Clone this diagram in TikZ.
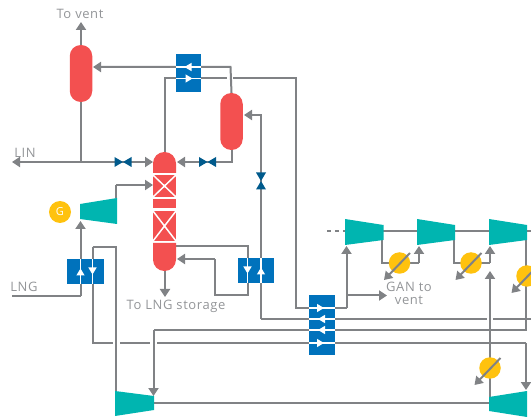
\documentclass[tikz,border=0pt]{standalone}
\usepackage{fontspec}
\setmainfont[LetterSpace=4.5]{Open Sans}
\usetikzlibrary{arrows.meta,calc}
\definecolor{pipe}{HTML}{808285}
\definecolor{lbl}{HTML}{939598}
\definecolor{vred}{HTML}{F35050}
\definecolor{hxblue}{HTML}{0072BC}
\definecolor{teal2}{HTML}{00B5B0}
\definecolor{gold}{HTML}{FFC20E}
\definecolor{valveblue}{HTML}{005A8C}
\tikzset{
 x=1pt,y=-1pt,
 pipeline/.style={draw=pipe,line width=2pt},
 flow/.style={pipeline,-{Triangle[length=8pt,width=10pt]}},
 halo/.style={draw=white,line width=2.8pt},
 vessel/.style={fill=vred,minimum width=22.5pt,minimum height=57pt,inner sep=0pt,rounded corners=11pt},
 hxbox/.style={fill=hxblue,inner sep=0pt},
 hot/.style={draw=white,line width=1.2pt,-{Triangle[length=7pt,width=8pt]}},
 hotplain/.style={draw=white,line width=1.2pt},
 cooler/.style={circle,fill=gold,minimum size=21.5pt,inner sep=0pt},
 machine/.style={fill=teal2},
 vlv/.style={fill=valveblue},
 txt/.style={text=lbl,font=\fontsize{13}{12.5}\selectfont,inner sep=0pt,align=center},
 pack/.style={fill=vred},
 packx/.style={draw=white,line width=1.5pt},
}
\newcommand{\hvalve}[1]{\path[vlv] ($(#1)+(-8.5,-5)$) -- ($(#1)+(8.5,5)$) -- ($(#1)+(8.5,-5)$) -- ($(#1)+(-8.5,5)$) -- cycle;}
\newcommand{\vvalve}[1]{\path[vlv] ($(#1)+(-5,-8.5)$) -- ($(#1)+(5,8.5)$) -- ($(#1)+(-5,8.5)$) -- ($(#1)+(5,-8.5)$) -- cycle;}
\begin{document}
\begin{tikzpicture}
\clip (0,0) rectangle (531,417);
% coordinates
\coordinate (ventTip) at (81,22);
\coordinate (linTip) at (12,162);
\coordinate (linJ) at (81,162);
\coordinate (colTipL) at (153,162);
\coordinate (colTipR) at (177,162);
\coordinate (v1in) at (93,67);
\coordinate (c67) at (230.5,67);
\coordinate (colT) at (165,156);
\coordinate (a1) at (165,78.5);
\coordinate (gapL) at (227,78.5);
\coordinate (gapR) at (233,78.5);
\coordinate (a2) at (296,78.5);
\coordinate (a3) at (296,308);
\coordinate (a4) at (346.5,308);
\coordinate (c1in) at (346.5,246);
\coordinate (ganJ) at (346.5,295.5);
\coordinate (ganTip) at (387,295.5);
\coordinate (v2inTip) at (244,115);
\coordinate (r1) at (261,115);
\coordinate (r2) at (261,319);
\coordinate (r3) at (487,319);
\coordinate (r4) at (493,319);
\coordinate (r5) at (531,319);
\coordinate (s1) at (526,330);
\coordinate (s2) at (153.5,330);
\coordinate (s3) at (153.5,396);
\coordinate (s0) at (526,240);
\coordinate (t1) at (92.5,343);
\coordinate (t2) at (526,343);
\coordinate (t3) at (526,390);
\coordinate (t4) at (92.5,247);
\coordinate (t5) at (116,247);
\coordinate (t6) at (116,391);
\coordinate (x1a) at (112.5,343);
\coordinate (x1b) at (119.5,343);
\coordinate (x2a) at (150,343);
\coordinate (x2b) at (157,343);
\coordinate (g1) at (116,198);
\coordinate (g2) at (116,185);
\coordinate (g3) at (153,185);
\coordinate (lng0) at (12,296);
\coordinate (lng1) at (80.5,296);
\coordinate (lng2) at (80.5,221);
\coordinate (b1) at (176,246);
\coordinate (b2) at (247.5,246);
\coordinate (b3) at (247.5,295);
\coordinate (b4) at (214.5,295);
\coordinate (b5) at (214.5,259);
\coordinate (b6) at (177,259);
\coordinate (colB) at (165,271);
\coordinate (colBTip) at (165,297);
\coordinate (d0) at (327,231);
\coordinate (d1) at (345,231);
\coordinate (d2) at (531,231);
\coordinate (e1) at (382,240);
\coordinate (e2) at (382,263);
\coordinate (e3) at (419,263);
\coordinate (e4) at (419,246);
\coordinate (f1) at (453.5,240);
\coordinate (f2) at (453.5,263);
\coordinate (f3) at (490,263);
\coordinate (f4) at (490,246);
\coordinate (h1) at (154,403);
\coordinate (h2) at (490,403);
\coordinate (h3) at (490,397);
\coordinate (h4) at (490,271);
% vessels
\node[vessel] (v1) at (81,73.5) {};
\node[vessel] (v2) at (231.5,121.5) {};
% connectors
\draw[flow] (v1.north) -- (ventTip);
\draw[flow] (linJ) -- (linTip);
\draw[pipeline] (v1.south) -- (linJ);
\draw[flow] (linJ) -- (colTipL);
\draw[flow] (v2.south) |- (colTipR);
\draw[flow] (v2.north) -- (c67) -- (v1in);
\draw[pipeline] (colT) -- (a1) -- (gapL);
\draw[pipeline] (gapR) -- (a2) -- (a3) -- (a4);
\draw[flow] (a4) -- (c1in);
\draw[flow] (ganJ) -- (ganTip);
\draw[flow] (r2) -- (r1) -- (v2inTip);
\draw[pipeline] (r2) -- (r3);
\draw[pipeline] (r4) -- (r5);
\draw[pipeline] (t4) -- (t1) -- (t2);
\draw[flow] (t2) -- (t3);
\draw[halo] (x1a) -- (x1b);
\draw[halo] (x2a) -- (x2b);
\draw[pipeline] (s0) -- (s1) -- (s2);
\draw[flow] (s2) -- (s3);
\draw[pipeline] (t4) -- (t5) -- (t6);
\draw[pipeline] (g1) -- (g2);
\draw[flow] (g2) -- (g3);
\draw[pipeline] (lng0) -- (lng1);
\draw[flow] (lng1) -- (lng2);
\draw[pipeline] (b1) -- (b2) -- (b3) -- (b4) -- (b5);
\draw[flow] (b5) -- (b6);
\draw[flow] (colB) -- (colBTip);
\draw[pipeline,dash pattern=on 4pt off 4pt] (d0) -- (d1);
\draw[pipeline] (d1) -- (d2);
\draw[pipeline] (e1) -- (e2) -- (e3);
\draw[flow] (e3) -- (e4);
\draw[pipeline] (f1) -- (f2) -- (f3);
\draw[flow] (f3) -- (f4);
\draw[pipeline] (h1) -- (h2);
\draw[flow] (h3) -- (h4);
% column
\path[fill=vred,rounded corners=11.4pt] (153,173) -- (153,152) -- (176,152) -- (176,173);
\path[pack] (153,175) rectangle (176,197);
\draw[packx] (153,175) -- (176,197) (176,175) -- (153,197);
\path[pack] (153,199) rectangle (176,208);
\path[pack] (153,211) rectangle (176,241);
\draw[packx] (153,211) -- (176,241) (176,211) -- (153,241);
\path[fill=vred,rounded corners=11.4pt] (153,243) -- (153,271) -- (176,271) -- (176,243);
% machines
\path[machine] (80,204) -- (117,198) -- (117,224) -- (80,219) -- cycle;
\node[circle,fill=gold,minimum size=22pt,inner sep=0pt,text=white,font=\fontsize{11}{12}\selectfont] (gen) at (60,212) {G};
\path[machine] (115,391) -- (154,396) -- (154,410) -- (115,416) -- cycle;
\path[machine] (489,397) -- (527,391) -- (527,417) -- (489,411) -- cycle;
\path[machine] (345,219) -- (383.5,225) -- (383.5,240) -- (345,245) -- cycle;
\path[machine] (417,219) -- (455,225) -- (455,240) -- (417,245) -- cycle;
\path[machine] (489,219) -- (527,225) -- (527,240) -- (489,245) -- cycle;
% coolers
\node[cooler] (k1) at (399.5,263) {};
\node[cooler] (k2) at (471,263) {};
\node[cooler] (k3) at (527,276) {};
\node[cooler] (k4) at (490,368) {};
\foreach \k in {k1,k2,k3,k4}{
 \draw[flow] ($(\k)+(10.5,-10)$) -- ($(\k)+(-15.5,17)$);
}
% heat exchangers
\node[hxbox,minimum width=25pt,minimum height=38pt] (hx1) at (188.5,73) {};
\draw[hotplain] (hx1.west |- v1in) -- (hx1.east |- v1in);
\draw[hot] (hx1.east |- v1in) -- ($(hx1.center |- v1in)+(-4,0)$);
\draw[hotplain] (hx1.west |- gapL) -- (hx1.east |- gapL);
\draw[hot] (hx1.west |- gapL) -- ($(hx1.center |- gapL)+(4,0)$);
\node[hxbox,minimum width=37pt,minimum height=25pt] (hx2) at (85.5,271.5) {};
\draw[hotplain] (lng1 |- hx2.south) -- (lng1 |- hx2.north);
\draw[hot] (lng1 |- hx2.south) -- ($(lng1 |- hx2.center)+(0,-3)$);
\draw[hotplain] (t4 |- hx2.south) -- (t4 |- hx2.north);
\draw[hot] (t4 |- hx2.north) -- ($(t4 |- hx2.center)+(0,3)$);
\node[hxbox,minimum width=36pt,minimum height=25pt] (hx4) at (256,270.5) {};
\draw[hotplain] (b2 |- hx4.south) -- (b2 |- hx4.north);
\draw[hot] (b2 |- hx4.north) -- ($(b2 |- hx4.center)+(0,3)$);
\draw[hotplain] (r1 |- hx4.south) -- (r1 |- hx4.north);
\draw[hot] (r1 |- hx4.south) -- ($(r1 |- hx4.center)+(0,-3)$);
\node[hxbox,minimum width=26pt,minimum height=60pt] (hx3) at (322,325) {};
\draw[hotplain] (hx3.west |- a3) -- (hx3.east |- a3);
\draw[hot] (hx3.west |- a3) -- ($(hx3.center |- a3)+(2,0)$);
\draw[hotplain] (hx3.west |- r2) -- (hx3.east |- r2);
\draw[hot] (hx3.east |- r2) -- ($(hx3.center |- r2)+(-4,0)$);
\draw[hotplain] (hx3.west |- s1) -- (hx3.east |- s1);
\draw[hot] (hx3.east |- s1) -- ($(hx3.center |- s1)+(-4,0)$);
\draw[hotplain] (hx3.west |- t1) -- (hx3.east |- t1);
\draw[hot] (hx3.west |- t1) -- ($(hx3.center |- t1)+(2,0)$);
% valves
\coordinate (val1) at (123,162);
\coordinate (val2) at (207.5,162);
\coordinate (val3) at (261,181);
\hvalve{val1}
\hvalve{val2}
\vvalve{val3}
% labels
\node[txt] (tvent) at (80,13.5) {To vent};
\node[txt] (tlin) at (25,152.5) {LIN};
\node[txt] (tlng) at (24,286.5) {LNG};
\node[txt] (tstore) at (176,306.5) {To LNG storage};
\node[txt] (tgan) at (409,293.5) {GAN to\\vent};
\end{tikzpicture}
\end{document}
